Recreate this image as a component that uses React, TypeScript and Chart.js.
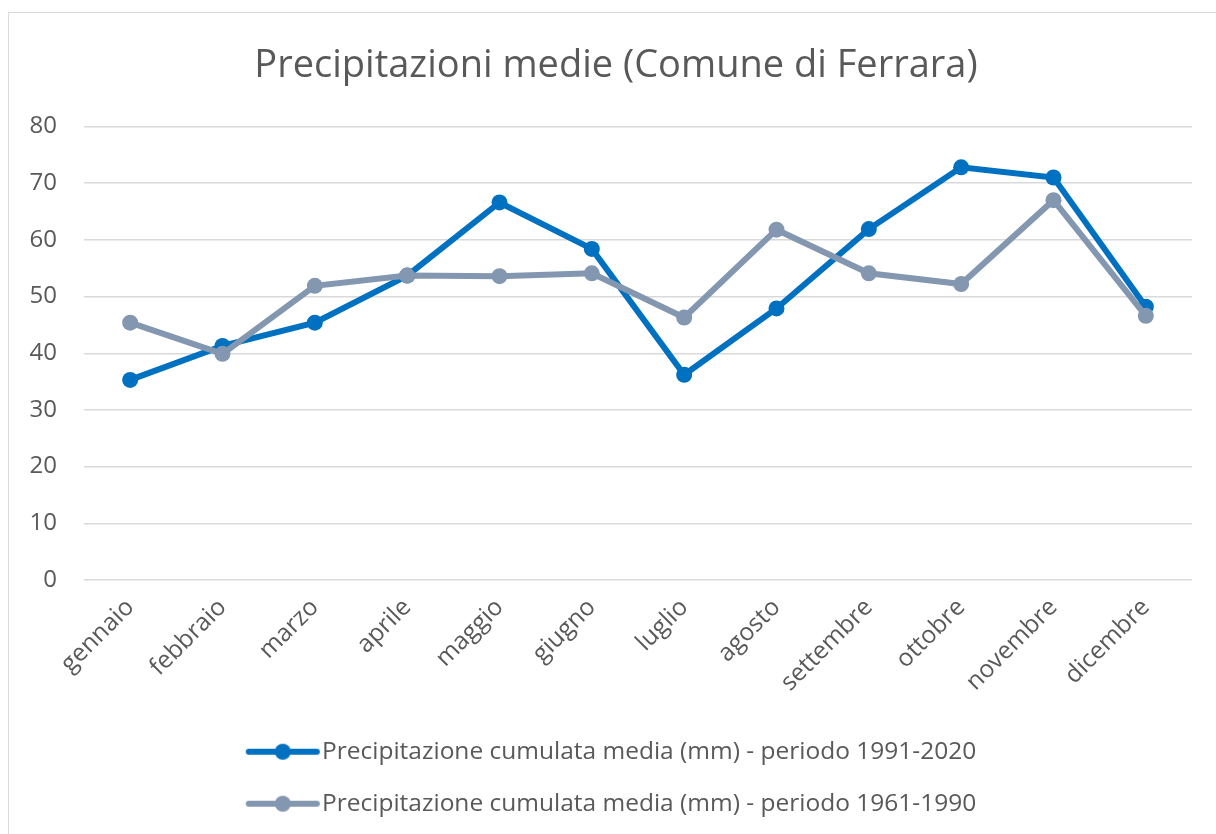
import React, { useEffect, useRef } from "react";
import { Chart, registerables } from "chart.js";

Chart.register(...registerables);

const months = [
  "gennaio", "febbraio", "marzo", "aprile", "maggio", "giugno",
  "luglio", "agosto", "settembre", "ottobre", "novembre", "dicembre",
];
const recentLabel = "Precipitazione cumulata media (mm) - periodo 1991-2020";
const olderLabel = "Precipitazione cumulata media (mm) - periodo 1961-1990";
const recentValues = [35.3, 41.3, 45.4, 53.7, 66.6, 58.4, 36.2, 47.9, 61.9, 72.8, 71.0, 48.2];
const olderValues = [45.4, 39.9, 51.9, 53.7, 53.6, 54.1, 46.3, 61.8, 54.1, 52.2, 67.0, 46.6];
const titleText = "Precipitazioni medie (Comune di Ferrara)";
const yMin = 0;
const yMax = 80;
const yStep = 10;

const BLUE = "#0070C0";
const GRAY = "#8497B0";
const TEXT = "#595959";
const FONT = "'Open Sans', 'Noto Sans', sans-serif";

function makeMarker(color: string): HTMLCanvasElement {
  const c = document.createElement("canvas");
  c.width = 76;
  c.height = 20;
  const ctx = c.getContext("2d")!;
  ctx.strokeStyle = color;
  ctx.lineWidth = 6;
  ctx.lineCap = "round";
  ctx.beginPath();
  ctx.moveTo(4, 10);
  ctx.lineTo(72, 10);
  ctx.stroke();
  ctx.fillStyle = color;
  ctx.beginPath();
  ctx.arc(38, 10, 8, 0, Math.PI * 2);
  ctx.fill();
  return c;
}

export default function App() {
  const ref = useRef<HTMLCanvasElement | null>(null);

  useEffect(() => {
    if (!ref.current) return;
    const markers = [makeMarker(BLUE), makeMarker(GRAY)];
    const chart = new Chart(ref.current, {
      type: "line",
      data: {
        labels: months,
        datasets: [
          {
            label: recentLabel,
            data: recentValues,
            borderColor: BLUE,
            backgroundColor: BLUE,
            pointBackgroundColor: BLUE,
            pointBorderColor: BLUE,
            borderWidth: 6,
            pointRadius: 8,
            pointBorderWidth: 0,
            tension: 0,
            order: 1,
          },
          {
            label: olderLabel,
            data: olderValues,
            borderColor: GRAY,
            backgroundColor: GRAY,
            pointBackgroundColor: GRAY,
            pointBorderColor: GRAY,
            borderWidth: 6,
            pointRadius: 8,
            pointBorderWidth: 0,
            tension: 0,
            order: 0,
          },
        ],
      },
      options: {
        responsive: false,
        animation: false,
        layout: { padding: { left: 0, right: 0, top: 0, bottom: 8 } },
        plugins: {
          tooltip: { enabled: false },
          title: {
            display: true,
            text: titleText,
            color: TEXT,
            font: { family: FONT, size: 38, weight: "normal", lineHeight: 1.25 },
            padding: { top: 29, bottom: 37 },
          },
          legend: {
            display: true,
            position: "bottom",
            labels: {
              color: TEXT,
              font: { family: FONT, size: 24.5 },
              usePointStyle: true,
              pointStyleWidth: 54,
              padding: 27.5,
              sort: (a: any, b: any) => a.datasetIndex - b.datasetIndex,
              generateLabels: (chart: any) => {
                const items = Chart.defaults.plugins.legend.labels.generateLabels(chart);
                items.forEach((it: any) => {
                  it.pointStyle = markers[it.datasetIndex];
                });
                return items;
              },
            },
          },
        },
        scales: {
          x: {
            offset: true,
            grid: { display: false },
            border: { display: false },
            ticks: {
              color: TEXT,
              font: { family: FONT, size: 24.5 },
              minRotation: 45,
              maxRotation: 45,
              padding: 5,
              autoSkip: false,
            },
            afterFit: (s: any) => {
              s.height = 132;
            },
          },
          y: {
            min: yMin,
            max: yMax,
            grid: { color: "#d9d9d9", lineWidth: 1.5, drawTicks: false },
            border: { display: false },
            ticks: {
              stepSize: yStep,
              color: TEXT,
              font: { family: FONT, size: 24 },
              padding: 27,
            },
            afterFit: (s: any) => {
              s.width = 75;
            },
          },
          yRight: {
            position: "right",
            min: yMin,
            max: yMax,
            grid: { display: false, drawTicks: false },
            border: { display: false },
            ticks: { display: false },
            afterFit: (s: any) => {
              s.width = 31;
            },
          },
        },
      },
    });
    return () => chart.destroy();
  }, []);

  return (
    <div
      style={{
        position: "fixed",
        left: 8,
        top: 12,
        width: 1230,
        height: 840,
        border: "1px solid #d9d9d9",
        background: "#fff",
        overflow: "hidden",
      }}
    >
      <canvas ref={ref} width={1214} height={821} style={{ display: "block" }} />
    </div>
  );
}
